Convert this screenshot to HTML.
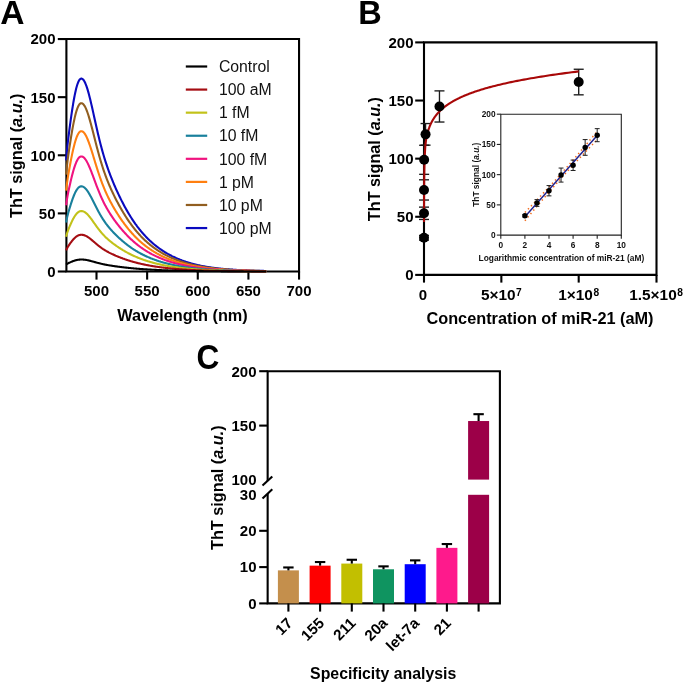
<!DOCTYPE html>
<html><head><meta charset="utf-8"><title>Figure</title>
<style>
html,body{margin:0;padding:0;background:#fff;}
body{width:685px;height:684px;overflow:hidden;}
svg{display:block;font-family:"Liberation Sans", sans-serif;will-change:transform;}
</style></head>
<body>
<svg width="685" height="684" viewBox="0 0 685 684">
<rect width="685" height="684" fill="#fff"/>
<text x="0.30" y="24.20" font-size="33.6" text-anchor="start" font-weight="bold" fill="#000" >A</text>
<path d="M66.40,39.05 H299.05 V271.50 H66.40 Z" fill="none" stroke="#000" stroke-width="2.1"/>
<line x1="57.80" y1="271.50" x2="66.40" y2="271.50" stroke="#000" stroke-width="2.1" />
<text x="55.50" y="276.90" font-size="15" text-anchor="end" font-weight="bold" fill="#000" >0</text>
<line x1="57.80" y1="213.39" x2="66.40" y2="213.39" stroke="#000" stroke-width="2.1" />
<text x="55.50" y="218.79" font-size="15" text-anchor="end" font-weight="bold" fill="#000" >50</text>
<line x1="57.80" y1="155.28" x2="66.40" y2="155.28" stroke="#000" stroke-width="2.1" />
<text x="55.50" y="160.68" font-size="15" text-anchor="end" font-weight="bold" fill="#000" >100</text>
<line x1="57.80" y1="97.16" x2="66.40" y2="97.16" stroke="#000" stroke-width="2.1" />
<text x="55.50" y="102.56" font-size="15" text-anchor="end" font-weight="bold" fill="#000" >150</text>
<line x1="57.80" y1="39.05" x2="66.40" y2="39.05" stroke="#000" stroke-width="2.1" />
<text x="55.50" y="44.45" font-size="15" text-anchor="end" font-weight="bold" fill="#000" >200</text>
<line x1="96.50" y1="271.50" x2="96.50" y2="279.60" stroke="#000" stroke-width="2.1" />
<text x="96.50" y="296.30" font-size="15" text-anchor="middle" font-weight="bold" fill="#000" >500</text>
<line x1="147.14" y1="271.50" x2="147.14" y2="279.60" stroke="#000" stroke-width="2.1" />
<text x="147.14" y="296.30" font-size="15" text-anchor="middle" font-weight="bold" fill="#000" >550</text>
<line x1="197.78" y1="271.50" x2="197.78" y2="279.60" stroke="#000" stroke-width="2.1" />
<text x="197.78" y="296.30" font-size="15" text-anchor="middle" font-weight="bold" fill="#000" >600</text>
<line x1="248.42" y1="271.50" x2="248.42" y2="279.60" stroke="#000" stroke-width="2.1" />
<text x="248.42" y="296.30" font-size="15" text-anchor="middle" font-weight="bold" fill="#000" >650</text>
<line x1="299.06" y1="271.50" x2="299.06" y2="279.60" stroke="#000" stroke-width="2.1" />
<text x="299.06" y="296.30" font-size="15" text-anchor="middle" font-weight="bold" fill="#000" >700</text>
<text x="182.50" y="320.50" font-size="16.3" text-anchor="middle" font-weight="bold" fill="#000" >Wavelength (nm)</text>
<text transform="translate(21.9,155.75) rotate(-90)" font-size="16.25" font-weight="bold" text-anchor="middle">ThT signal (<tspan font-style="italic">a.u.</tspan>)</text>
<polyline points="66.12,160.44 66.62,154.43 67.13,148.89 67.64,143.89 68.14,139.50 68.65,135.50 69.15,131.57 69.66,127.70 70.17,123.92 70.67,120.22 71.18,116.62 71.69,113.14 72.19,109.77 72.70,106.54 73.21,103.45 73.71,100.51 74.22,97.73 74.72,95.12 75.23,92.68 75.74,90.42 76.24,88.35 76.75,86.47 77.26,84.79 77.76,83.30 78.27,82.02 78.78,80.95 79.28,80.08 79.79,79.41 80.30,78.94 80.80,78.66 81.31,78.57 81.81,78.63 82.32,78.85 82.83,79.23 83.33,79.75 83.84,80.43 84.35,81.25 84.85,82.21 85.36,83.31 85.87,84.54 86.37,85.89 86.88,87.36 87.38,88.94 87.89,90.63 88.40,92.41 88.90,94.27 89.41,96.22 89.92,98.24 90.42,100.32 90.93,102.45 91.44,104.63 91.94,106.84 92.45,109.09 92.96,111.36 93.46,113.64 93.97,115.93 94.47,118.23 94.98,120.52 95.49,122.80 95.99,125.06 96.50,127.31 97.01,129.53 97.51,131.73 98.02,133.89 98.53,136.03 99.03,138.12 99.54,140.19 100.04,142.21 100.55,144.19 101.06,146.13 101.56,148.04 102.07,149.90 102.58,151.72 103.08,153.50 103.59,155.24 104.10,156.95 104.60,158.61 105.11,160.24 105.62,161.84 106.12,163.40 106.63,164.93 107.13,166.42 107.64,167.89 108.15,169.33 108.65,170.74 109.16,172.13 109.67,173.49 110.17,174.83 110.68,176.15 111.19,177.44 111.69,178.72 112.20,179.98 112.70,181.22 113.21,182.44 113.72,183.65 114.22,184.84 114.73,186.01 115.24,187.17 115.74,188.32 116.25,189.45 116.76,190.58 117.26,191.68 117.77,192.78 118.28,193.86 118.78,194.93 119.29,195.99 119.79,197.04 120.30,198.07 120.81,199.10 121.31,200.11 121.82,201.11 122.33,202.10 122.83,203.08 123.34,204.05 123.85,205.01 124.35,205.96 124.86,206.89 125.36,207.81 125.87,208.73 126.38,209.63 126.88,210.52 127.39,211.40 127.90,212.27 128.40,213.13 128.91,213.98 129.42,214.81 129.92,215.64 130.43,216.45 130.94,217.26 131.44,218.05 131.95,218.84 132.45,219.61 132.96,220.37 133.47,221.13 133.97,221.87 134.48,222.60 134.99,223.32 135.49,224.04 136.00,224.74 136.51,225.43 137.01,226.12 137.52,226.79 138.02,227.46 138.53,228.11 139.04,228.76 139.54,229.40 140.05,230.02 140.56,230.64 141.06,231.26 141.57,231.86 142.08,232.45 142.58,233.04 143.09,233.62 143.60,234.19 144.10,234.75 144.61,235.30 145.11,235.85 145.62,236.39 146.13,236.92 146.63,237.44 147.14,237.96 147.65,238.46 148.15,238.97 148.66,239.46 149.17,239.95 149.67,240.43 150.18,240.90 150.68,241.37 151.19,241.83 151.70,242.29 152.20,242.74 152.71,243.18 153.22,243.61 153.72,244.04 154.23,244.47 154.74,244.88 155.24,245.30 155.75,245.70 156.26,246.10 156.76,246.50 157.27,246.89 157.77,247.27 158.28,247.65 158.79,248.02 159.29,248.39 159.80,248.75 160.31,249.11 160.81,249.46 161.32,249.81 161.83,250.15 162.33,250.49 162.84,250.83 163.34,251.15 163.85,251.48 164.36,251.80 164.86,252.11 165.37,252.42 165.88,252.73 166.38,253.03 166.89,253.33 167.40,253.62 167.90,253.91 168.41,254.19 168.92,254.47 169.42,254.75 169.93,255.02 170.43,255.29 170.94,255.55 171.45,255.81 171.95,256.07 172.46,256.32 172.97,256.57 173.47,256.82 173.98,257.06 174.49,257.30 174.99,257.53 175.50,257.76 176.00,257.99 176.51,258.21 177.02,258.43 177.52,258.65 178.03,258.87 178.54,259.08 179.04,259.28 179.55,259.49 180.06,259.69 180.56,259.89 181.07,260.08 181.58,260.28 182.08,260.47 182.59,260.65 183.09,260.84 183.60,261.02 184.11,261.19 184.61,261.37 185.12,261.54 185.63,261.71 186.13,261.88 186.64,262.04 187.15,262.20 187.65,262.36 188.16,262.52 188.66,262.67 189.17,262.83 189.68,262.98 190.18,263.12 190.69,263.27 191.20,263.41 191.70,263.55 192.21,263.69 192.72,263.82 193.22,263.96 193.73,264.09 194.24,264.22 194.74,264.34 195.25,264.47 195.75,264.59 196.26,264.71 196.77,264.83 197.27,264.95 197.78,265.06 198.29,265.18 198.79,265.29 199.30,265.40 199.81,265.50 200.31,265.61 200.82,265.71 201.32,265.82 201.83,265.92 202.34,266.02 202.84,266.11 203.35,266.21 203.86,266.30 204.36,266.39 204.87,266.49 205.38,266.57 205.88,266.66 206.39,266.75 206.90,266.83 207.40,266.92 207.91,267.00 208.41,267.08 208.92,267.16 209.43,267.24 209.93,267.31 210.44,267.39 210.95,267.46 211.45,267.53 211.96,267.61 212.47,267.68 212.97,267.75 213.48,267.81 213.98,267.88 214.49,267.95 215.00,268.01 215.50,268.07 216.01,268.13 216.52,268.20 217.02,268.26 217.53,268.31 218.04,268.37 218.54,268.43 219.05,268.49 219.56,268.54 220.06,268.59 220.57,268.65 221.07,268.70 221.58,268.75 222.09,268.80 222.59,268.85 223.10,268.90 223.61,268.95 224.11,268.99 224.62,269.04 225.13,269.08 225.63,269.13 226.14,269.17 226.64,269.21 227.15,269.26 227.66,269.30 228.16,269.34 228.67,269.38 229.18,269.42 229.68,269.46 230.19,269.49 230.70,269.53 231.20,269.57 231.71,269.60 232.22,269.64 232.72,269.67 233.23,269.71 233.73,269.74 234.24,269.77 234.75,269.80 235.25,269.84 235.76,269.87 236.27,269.90 236.77,269.93 237.28,269.96 237.79,269.98 238.29,270.01 238.80,270.04 239.30,270.07 239.81,270.09 240.32,270.12 240.82,270.15 241.33,270.17 241.84,270.20 242.34,270.22 242.85,270.24 243.36,270.27 243.86,270.29 244.37,270.31 244.88,270.34 245.38,270.36 245.89,270.38 246.39,270.40 246.90,270.42 247.41,270.44 247.91,270.46 248.42,270.48 248.93,270.50 249.43,270.52 249.94,270.54 250.45,270.56 250.95,270.57 251.46,270.59 251.96,270.61 252.47,270.62 252.98,270.64 253.48,270.66 253.99,270.67 254.50,270.69 255.00,270.70 255.51,270.72 256.02,270.73 256.52,270.75 257.03,270.76 257.54,270.78 258.04,270.79 258.55,270.80 259.05,270.82 259.56,270.83 260.07,270.84 260.57,270.85 261.08,270.87 261.59,270.88 262.09,270.89 262.60,270.90 263.11,270.91 263.61,270.92 264.12,270.94 264.62,270.95 265.13,270.96 265.64,270.97 266.14,270.98" fill="none" stroke="#0a0abf" stroke-width="2.1" stroke-linejoin="round"/>
<polyline points="66.12,174.62 66.62,169.38 67.13,164.55 67.64,160.19 68.14,156.36 68.65,152.87 69.15,149.44 69.66,146.07 70.17,142.77 70.67,139.54 71.18,136.40 71.69,133.36 72.19,130.43 72.70,127.61 73.21,124.91 73.71,122.35 74.22,119.92 74.72,117.64 75.23,115.51 75.74,113.54 76.24,111.74 76.75,110.10 77.26,108.63 77.76,107.34 78.27,106.22 78.78,105.28 79.28,104.52 79.79,103.94 80.30,103.53 80.80,103.29 81.31,103.21 81.81,103.26 82.32,103.46 82.83,103.78 83.33,104.24 83.84,104.83 84.35,105.55 84.85,106.38 85.36,107.34 85.87,108.41 86.37,109.59 86.88,110.88 87.38,112.26 87.89,113.73 88.40,115.28 88.90,116.91 89.41,118.61 89.92,120.36 90.42,122.18 90.93,124.04 91.44,125.94 91.94,127.87 92.45,129.83 92.96,131.81 93.46,133.80 93.97,135.80 94.47,137.80 94.98,139.80 95.49,141.79 95.99,143.76 96.50,145.72 97.01,147.66 97.51,149.58 98.02,151.47 98.53,153.33 99.03,155.16 99.54,156.96 100.04,158.72 100.55,160.45 101.06,162.14 101.56,163.80 102.07,165.43 102.58,167.02 103.08,168.57 103.59,170.09 104.10,171.58 104.60,173.03 105.11,174.45 105.62,175.84 106.12,177.20 106.63,178.54 107.13,179.84 107.64,181.12 108.15,182.38 108.65,183.61 109.16,184.82 109.67,186.01 110.17,187.18 110.68,188.33 111.19,189.46 111.69,190.57 112.20,191.67 112.70,192.75 113.21,193.81 113.72,194.87 114.22,195.91 114.73,196.93 115.24,197.94 115.74,198.94 116.25,199.93 116.76,200.91 117.26,201.88 117.77,202.83 118.28,203.78 118.78,204.71 119.29,205.63 119.79,206.55 120.30,207.45 120.81,208.35 121.31,209.23 121.82,210.10 122.33,210.97 122.83,211.82 123.34,212.67 123.85,213.50 124.35,214.33 124.86,215.14 125.36,215.95 125.87,216.74 126.38,217.53 126.88,218.31 127.39,219.08 127.90,219.83 128.40,220.58 128.91,221.32 129.42,222.05 129.92,222.77 130.43,223.48 130.94,224.19 131.44,224.88 131.95,225.56 132.45,226.24 132.96,226.90 133.47,227.56 133.97,228.21 134.48,228.85 134.99,229.48 135.49,230.10 136.00,230.71 136.51,231.32 137.01,231.91 137.52,232.50 138.02,233.08 138.53,233.65 139.04,234.22 139.54,234.77 140.05,235.32 140.56,235.86 141.06,236.40 141.57,236.92 142.08,237.44 142.58,237.95 143.09,238.45 143.60,238.95 144.10,239.44 144.61,239.92 145.11,240.40 145.62,240.87 146.13,241.33 146.63,241.79 147.14,242.24 147.65,242.68 148.15,243.12 148.66,243.55 149.17,243.98 149.67,244.40 150.18,244.81 150.68,245.22 151.19,245.62 151.70,246.02 152.20,246.41 152.71,246.79 153.22,247.17 153.72,247.55 154.23,247.92 154.74,248.28 155.24,248.64 155.75,249.00 156.26,249.35 156.76,249.69 157.27,250.03 157.77,250.37 158.28,250.70 158.79,251.02 159.29,251.34 159.80,251.66 160.31,251.97 160.81,252.28 161.32,252.58 161.83,252.88 162.33,253.18 162.84,253.47 163.34,253.75 163.85,254.03 164.36,254.31 164.86,254.59 165.37,254.86 165.88,255.12 166.38,255.39 166.89,255.65 167.40,255.90 167.90,256.15 168.41,256.40 168.92,256.65 169.42,256.89 169.93,257.12 170.43,257.36 170.94,257.59 171.45,257.82 171.95,258.04 172.46,258.26 172.97,258.48 173.47,258.69 173.98,258.90 174.49,259.11 174.99,259.31 175.50,259.52 176.00,259.71 176.51,259.91 177.02,260.10 177.52,260.29 178.03,260.48 178.54,260.66 179.04,260.84 179.55,261.02 180.06,261.20 180.56,261.37 181.07,261.54 181.58,261.71 182.08,261.87 182.59,262.04 183.09,262.20 183.60,262.36 184.11,262.51 184.61,262.66 185.12,262.81 185.63,262.96 186.13,263.11 186.64,263.25 187.15,263.39 187.65,263.53 188.16,263.67 188.66,263.80 189.17,263.93 189.68,264.06 190.18,264.19 190.69,264.32 191.20,264.44 191.70,264.57 192.21,264.69 192.72,264.80 193.22,264.92 193.73,265.03 194.24,265.15 194.74,265.26 195.25,265.37 195.75,265.47 196.26,265.58 196.77,265.68 197.27,265.78 197.78,265.88 198.29,265.98 198.79,266.08 199.30,266.18 199.81,266.27 200.31,266.36 200.82,266.45 201.32,266.54 201.83,266.63 202.34,266.72 202.84,266.80 203.35,266.88 203.86,266.97 204.36,267.05 204.87,267.13 205.38,267.20 205.88,267.28 206.39,267.36 206.90,267.43 207.40,267.50 207.91,267.57 208.41,267.64 208.92,267.71 209.43,267.78 209.93,267.85 210.44,267.91 210.95,267.98 211.45,268.04 211.96,268.10 212.47,268.16 212.97,268.23 213.48,268.28 213.98,268.34 214.49,268.40 215.00,268.46 215.50,268.51 216.01,268.56 216.52,268.62 217.02,268.67 217.53,268.72 218.04,268.77 218.54,268.82 219.05,268.87 219.56,268.92 220.06,268.97 220.57,269.01 221.07,269.06 221.58,269.10 222.09,269.15 222.59,269.19 223.10,269.23 223.61,269.27 224.11,269.31 224.62,269.35 225.13,269.39 225.63,269.43 226.14,269.47 226.64,269.51 227.15,269.54 227.66,269.58 228.16,269.61 228.67,269.65 229.18,269.68 229.68,269.72 230.19,269.75 230.70,269.78 231.20,269.81 231.71,269.85 232.22,269.88 232.72,269.91 233.23,269.94 233.73,269.96 234.24,269.99 234.75,270.02 235.25,270.05 235.76,270.08 236.27,270.10 236.77,270.13 237.28,270.15 237.79,270.18 238.29,270.20 238.80,270.23 239.30,270.25 239.81,270.27 240.32,270.30 240.82,270.32 241.33,270.34 241.84,270.36 242.34,270.38 242.85,270.41 243.36,270.43 243.86,270.45 244.37,270.47 244.88,270.48 245.38,270.50 245.89,270.52 246.39,270.54 246.90,270.56 247.41,270.58 247.91,270.59 248.42,270.61 248.93,270.63 249.43,270.64 249.94,270.66 250.45,270.68 250.95,270.69 251.46,270.71 251.96,270.72 252.47,270.74 252.98,270.75 253.48,270.76 253.99,270.78 254.50,270.79 255.00,270.81 255.51,270.82 256.02,270.83 256.52,270.84 257.03,270.86 257.54,270.87 258.04,270.88 258.55,270.89 259.05,270.90 259.56,270.92 260.07,270.93 260.57,270.94 261.08,270.95 261.59,270.96 262.09,270.97 262.60,270.98 263.11,270.99 263.61,271.00 264.12,271.01 264.62,271.02 265.13,271.03 265.64,271.04 266.14,271.04" fill="none" stroke="#915e20" stroke-width="2.1" stroke-linejoin="round"/>
<polyline points="66.12,190.74 66.62,186.38 67.13,182.35 67.64,178.71 68.14,175.52 68.65,172.62 69.15,169.76 69.66,166.95 70.17,164.19 70.67,161.50 71.18,158.89 71.69,156.35 72.19,153.91 72.70,151.56 73.21,149.31 73.71,147.17 74.22,145.15 74.72,143.25 75.23,141.48 75.74,139.83 76.24,138.33 76.75,136.96 77.26,135.74 77.76,134.66 78.27,133.73 78.78,132.95 79.28,132.31 79.79,131.83 80.30,131.49 80.80,131.28 81.31,131.22 81.81,131.26 82.32,131.42 82.83,131.70 83.33,132.08 83.84,132.57 84.35,133.17 84.85,133.87 85.36,134.66 85.87,135.56 86.37,136.54 86.88,137.61 87.38,138.76 87.89,139.99 88.40,141.28 88.90,142.64 89.41,144.05 89.92,145.52 90.42,147.03 90.93,148.58 91.44,150.17 91.94,151.78 92.45,153.41 92.96,155.06 93.46,156.72 93.97,158.39 94.47,160.05 94.98,161.72 95.49,163.38 95.99,165.02 96.50,166.66 97.01,168.27 97.51,169.87 98.02,171.45 98.53,173.00 99.03,174.52 99.54,176.02 100.04,177.49 100.55,178.93 101.06,180.34 101.56,181.73 102.07,183.08 102.58,184.41 103.08,185.70 103.59,186.97 104.10,188.21 104.60,189.42 105.11,190.60 105.62,191.76 106.12,192.90 106.63,194.01 107.13,195.10 107.64,196.17 108.15,197.21 108.65,198.24 109.16,199.25 109.67,200.24 110.17,201.21 110.68,202.17 111.19,203.11 111.69,204.04 112.20,204.95 112.70,205.86 113.21,206.74 113.72,207.62 114.22,208.49 114.73,209.34 115.24,210.19 115.74,211.02 116.25,211.84 116.76,212.66 117.26,213.46 117.77,214.26 118.28,215.05 118.78,215.83 119.29,216.60 119.79,217.36 120.30,218.11 120.81,218.86 121.31,219.59 121.82,220.32 122.33,221.04 122.83,221.75 123.34,222.46 123.85,223.15 124.35,223.84 124.86,224.52 125.36,225.19 125.87,225.86 126.38,226.51 126.88,227.16 127.39,227.80 127.90,228.43 128.40,229.06 128.91,229.67 129.42,230.28 129.92,230.88 130.43,231.48 130.94,232.06 131.44,232.64 131.95,233.21 132.45,233.77 132.96,234.33 133.47,234.87 133.97,235.41 134.48,235.95 134.99,236.47 135.49,236.99 136.00,237.50 136.51,238.00 137.01,238.50 137.52,238.99 138.02,239.47 138.53,239.95 139.04,240.42 139.54,240.89 140.05,241.34 140.56,241.79 141.06,242.24 141.57,242.68 142.08,243.11 142.58,243.53 143.09,243.95 143.60,244.37 144.10,244.78 144.61,245.18 145.11,245.58 145.62,245.97 146.13,246.35 146.63,246.73 147.14,247.11 147.65,247.48 148.15,247.84 148.66,248.20 149.17,248.56 149.67,248.91 150.18,249.25 150.68,249.59 151.19,249.93 151.70,250.26 152.20,250.58 152.71,250.91 153.22,251.22 153.72,251.54 154.23,251.84 154.74,252.15 155.24,252.45 155.75,252.74 156.26,253.03 156.76,253.32 157.27,253.60 157.77,253.88 158.28,254.16 158.79,254.43 159.29,254.70 159.80,254.96 160.31,255.22 160.81,255.48 161.32,255.73 161.83,255.98 162.33,256.23 162.84,256.47 163.34,256.71 163.85,256.94 164.36,257.17 164.86,257.40 165.37,257.63 165.88,257.85 166.38,258.07 166.89,258.29 167.40,258.50 167.90,258.71 168.41,258.91 168.92,259.12 169.42,259.32 169.93,259.52 170.43,259.71 170.94,259.90 171.45,260.09 171.95,260.28 172.46,260.46 172.97,260.64 173.47,260.82 173.98,261.00 174.49,261.17 174.99,261.34 175.50,261.51 176.00,261.68 176.51,261.84 177.02,262.00 177.52,262.16 178.03,262.31 178.54,262.47 179.04,262.62 179.55,262.77 180.06,262.91 180.56,263.06 181.07,263.20 181.58,263.34 182.08,263.48 182.59,263.61 183.09,263.75 183.60,263.88 184.11,264.01 184.61,264.13 185.12,264.26 185.63,264.38 186.13,264.50 186.64,264.62 187.15,264.74 187.65,264.86 188.16,264.97 188.66,265.08 189.17,265.19 189.68,265.30 190.18,265.41 190.69,265.51 191.20,265.62 191.70,265.72 192.21,265.82 192.72,265.92 193.22,266.02 193.73,266.11 194.24,266.20 194.74,266.30 195.25,266.39 195.75,266.48 196.26,266.56 196.77,266.65 197.27,266.74 197.78,266.82 198.29,266.90 198.79,266.98 199.30,267.06 199.81,267.14 200.31,267.22 200.82,267.29 201.32,267.37 201.83,267.44 202.34,267.51 202.84,267.58 203.35,267.65 203.86,267.72 204.36,267.79 204.87,267.85 205.38,267.92 205.88,267.98 206.39,268.05 206.90,268.11 207.40,268.17 207.91,268.23 208.41,268.29 208.92,268.34 209.43,268.40 209.93,268.46 210.44,268.51 210.95,268.56 211.45,268.62 211.96,268.67 212.47,268.72 212.97,268.77 213.48,268.82 213.98,268.87 214.49,268.92 215.00,268.96 215.50,269.01 216.01,269.05 216.52,269.10 217.02,269.14 217.53,269.18 218.04,269.23 218.54,269.27 219.05,269.31 219.56,269.35 220.06,269.39 220.57,269.43 221.07,269.46 221.58,269.50 222.09,269.54 222.59,269.57 223.10,269.61 223.61,269.64 224.11,269.68 224.62,269.71 225.13,269.74 225.63,269.78 226.14,269.81 226.64,269.84 227.15,269.87 227.66,269.90 228.16,269.93 228.67,269.96 229.18,269.99 229.68,270.01 230.19,270.04 230.70,270.07 231.20,270.09 231.71,270.12 232.22,270.15 232.72,270.17 233.23,270.20 233.73,270.22 234.24,270.24 234.75,270.27 235.25,270.29 235.76,270.31 236.27,270.33 236.77,270.36 237.28,270.38 237.79,270.40 238.29,270.42 238.80,270.44 239.30,270.46 239.81,270.48 240.32,270.50 240.82,270.52 241.33,270.53 241.84,270.55 242.34,270.57 242.85,270.59 243.36,270.60 243.86,270.62 244.37,270.64 244.88,270.65 245.38,270.67 245.89,270.69 246.39,270.70 246.90,270.72 247.41,270.73 247.91,270.74 248.42,270.76 248.93,270.77 249.43,270.79 249.94,270.80 250.45,270.81 250.95,270.83 251.46,270.84 251.96,270.85 252.47,270.86 252.98,270.88 253.48,270.89 253.99,270.90 254.50,270.91 255.00,270.92 255.51,270.93 256.02,270.94 256.52,270.95 257.03,270.96 257.54,270.97 258.04,270.98 258.55,270.99 259.05,271.00 259.56,271.01 260.07,271.02 260.57,271.03 261.08,271.04 261.59,271.05 262.09,271.06 262.60,271.07 263.11,271.07 263.61,271.08 264.12,271.09 264.62,271.10 265.13,271.11 265.64,271.11 266.14,271.12" fill="none" stroke="#ff7f10" stroke-width="2.1" stroke-linejoin="round"/>
<polyline points="66.12,205.26 66.62,201.68 67.13,198.38 67.64,195.40 68.14,192.78 68.65,190.39 69.15,188.05 69.66,185.74 70.17,183.48 70.67,181.28 71.18,179.13 71.69,177.06 72.19,175.05 72.70,173.12 73.21,171.28 73.71,169.52 74.22,167.87 74.72,166.31 75.23,164.85 75.74,163.51 76.24,162.27 76.75,161.15 77.26,160.15 77.76,159.26 78.27,158.50 78.78,157.86 79.28,157.34 79.79,156.94 80.30,156.66 80.80,156.49 81.31,156.44 81.81,156.48 82.32,156.61 82.83,156.83 83.33,157.14 83.84,157.55 84.35,158.04 84.85,158.61 85.36,159.27 85.87,160.00 86.37,160.81 86.88,161.68 87.38,162.63 87.89,163.63 88.40,164.69 88.90,165.81 89.41,166.97 89.92,168.17 90.42,169.41 90.93,170.68 91.44,171.98 91.94,173.30 92.45,174.64 92.96,175.99 93.46,177.36 93.97,178.72 94.47,180.09 94.98,181.46 95.49,182.82 95.99,184.17 96.50,185.51 97.01,186.83 97.51,188.14 98.02,189.43 98.53,190.71 99.03,191.96 99.54,193.19 100.04,194.39 100.55,195.57 101.06,196.73 101.56,197.87 102.07,198.98 102.58,200.06 103.08,201.13 103.59,202.17 104.10,203.18 104.60,204.18 105.11,205.15 105.62,206.10 106.12,207.03 106.63,207.94 107.13,208.83 107.64,209.71 108.15,210.57 108.65,211.41 109.16,212.24 109.67,213.05 110.17,213.85 110.68,214.63 111.19,215.41 111.69,216.17 112.20,216.92 112.70,217.66 113.21,218.39 113.72,219.11 114.22,219.82 114.73,220.52 115.24,221.21 115.74,221.89 116.25,222.57 116.76,223.24 117.26,223.90 117.77,224.55 118.28,225.20 118.78,225.84 119.29,226.47 119.79,227.09 120.30,227.71 120.81,228.32 121.31,228.93 121.82,229.52 122.33,230.11 122.83,230.70 123.34,231.28 123.85,231.85 124.35,232.41 124.86,232.97 125.36,233.52 125.87,234.06 126.38,234.60 126.88,235.13 127.39,235.66 127.90,236.18 128.40,236.69 128.91,237.19 129.42,237.69 129.92,238.18 130.43,238.67 130.94,239.15 131.44,239.62 131.95,240.09 132.45,240.55 132.96,241.01 133.47,241.46 133.97,241.90 134.48,242.34 134.99,242.77 135.49,243.19 136.00,243.61 136.51,244.03 137.01,244.43 137.52,244.84 138.02,245.23 138.53,245.62 139.04,246.01 139.54,246.39 140.05,246.76 140.56,247.13 141.06,247.50 141.57,247.86 142.08,248.21 142.58,248.56 143.09,248.91 143.60,249.25 144.10,249.58 144.61,249.91 145.11,250.24 145.62,250.56 146.13,250.87 146.63,251.19 147.14,251.49 147.65,251.80 148.15,252.10 148.66,252.39 149.17,252.68 149.67,252.97 150.18,253.25 150.68,253.53 151.19,253.81 151.70,254.08 152.20,254.35 152.71,254.61 153.22,254.87 153.72,255.12 154.23,255.38 154.74,255.63 155.24,255.87 155.75,256.11 156.26,256.35 156.76,256.59 157.27,256.82 157.77,257.05 158.28,257.28 158.79,257.50 159.29,257.72 159.80,257.93 160.31,258.15 160.81,258.36 161.32,258.57 161.83,258.77 162.33,258.97 162.84,259.17 163.34,259.37 163.85,259.56 164.36,259.75 164.86,259.94 165.37,260.12 165.88,260.30 166.38,260.48 166.89,260.66 167.40,260.84 167.90,261.01 168.41,261.18 168.92,261.34 169.42,261.51 169.93,261.67 170.43,261.83 170.94,261.99 171.45,262.14 171.95,262.30 172.46,262.45 172.97,262.60 173.47,262.74 173.98,262.89 174.49,263.03 174.99,263.17 175.50,263.31 176.00,263.44 176.51,263.58 177.02,263.71 177.52,263.84 178.03,263.96 178.54,264.09 179.04,264.21 179.55,264.34 180.06,264.46 180.56,264.58 181.07,264.69 181.58,264.81 182.08,264.92 182.59,265.03 183.09,265.14 183.60,265.25 184.11,265.35 184.61,265.46 185.12,265.56 185.63,265.66 186.13,265.76 186.64,265.86 187.15,265.96 187.65,266.05 188.16,266.14 188.66,266.24 189.17,266.33 189.68,266.42 190.18,266.50 190.69,266.59 191.20,266.68 191.70,266.76 192.21,266.84 192.72,266.92 193.22,267.00 193.73,267.08 194.24,267.16 194.74,267.23 195.25,267.31 195.75,267.38 196.26,267.45 196.77,267.52 197.27,267.59 197.78,267.66 198.29,267.73 198.79,267.79 199.30,267.86 199.81,267.92 200.31,267.99 200.82,268.05 201.32,268.11 201.83,268.17 202.34,268.23 202.84,268.29 203.35,268.34 203.86,268.40 204.36,268.46 204.87,268.51 205.38,268.56 205.88,268.61 206.39,268.67 206.90,268.72 207.40,268.77 207.91,268.82 208.41,268.86 208.92,268.91 209.43,268.96 209.93,269.00 210.44,269.05 210.95,269.09 211.45,269.14 211.96,269.18 212.47,269.22 212.97,269.26 213.48,269.30 213.98,269.34 214.49,269.38 215.00,269.42 215.50,269.46 216.01,269.49 216.52,269.53 217.02,269.57 217.53,269.60 218.04,269.63 218.54,269.67 219.05,269.70 219.56,269.73 220.06,269.77 220.57,269.80 221.07,269.83 221.58,269.86 222.09,269.89 222.59,269.92 223.10,269.95 223.61,269.98 224.11,270.00 224.62,270.03 225.13,270.06 225.63,270.09 226.14,270.11 226.64,270.14 227.15,270.16 227.66,270.19 228.16,270.21 228.67,270.23 229.18,270.26 229.68,270.28 230.19,270.30 230.70,270.33 231.20,270.35 231.71,270.37 232.22,270.39 232.72,270.41 233.23,270.43 233.73,270.45 234.24,270.47 234.75,270.49 235.25,270.51 235.76,270.53 236.27,270.54 236.77,270.56 237.28,270.58 237.79,270.60 238.29,270.61 238.80,270.63 239.30,270.65 239.81,270.66 240.32,270.68 240.82,270.69 241.33,270.71 241.84,270.72 242.34,270.74 242.85,270.75 243.36,270.77 243.86,270.78 244.37,270.79 244.88,270.81 245.38,270.82 245.89,270.83 246.39,270.84 246.90,270.86 247.41,270.87 247.91,270.88 248.42,270.89 248.93,270.90 249.43,270.91 249.94,270.93 250.45,270.94 250.95,270.95 251.46,270.96 251.96,270.97 252.47,270.98 252.98,270.99 253.48,271.00 253.99,271.01 254.50,271.02 255.00,271.03 255.51,271.03 256.02,271.04 256.52,271.05 257.03,271.06 257.54,271.07 258.04,271.08 258.55,271.08 259.05,271.09 259.56,271.10 260.07,271.11 260.57,271.12 261.08,271.12 261.59,271.13 262.09,271.14 262.60,271.14 263.11,271.15 263.61,271.16 264.12,271.16 264.62,271.17 265.13,271.18 265.64,271.18 266.14,271.19" fill="none" stroke="#f0137f" stroke-width="2.1" stroke-linejoin="round"/>
<polyline points="66.12,222.46 66.62,219.81 67.13,217.36 67.64,215.15 68.14,213.21 68.65,211.45 69.15,209.71 69.66,208.00 70.17,206.33 70.67,204.70 71.18,203.11 71.69,201.57 72.19,200.09 72.70,198.66 73.21,197.30 73.71,196.00 74.22,194.77 74.72,193.61 75.23,192.54 75.74,191.54 76.24,190.63 76.75,189.80 77.26,189.05 77.76,188.40 78.27,187.83 78.78,187.36 79.28,186.97 79.79,186.68 80.30,186.47 80.80,186.35 81.31,186.31 81.81,186.34 82.32,186.43 82.83,186.60 83.33,186.83 83.84,187.13 84.35,187.49 84.85,187.92 85.36,188.40 85.87,188.94 86.37,189.54 86.88,190.19 87.38,190.89 87.89,191.63 88.40,192.42 88.90,193.24 89.41,194.10 89.92,194.99 90.42,195.91 90.93,196.85 91.44,197.81 91.94,198.79 92.45,199.79 92.96,200.79 93.46,201.80 93.97,202.81 94.47,203.82 94.98,204.83 95.49,205.84 95.99,206.84 96.50,207.83 97.01,208.81 97.51,209.78 98.02,210.74 98.53,211.68 99.03,212.61 99.54,213.52 100.04,214.41 100.55,215.28 101.06,216.14 101.56,216.98 102.07,217.80 102.58,218.61 103.08,219.40 103.59,220.16 104.10,220.92 104.60,221.65 105.11,222.37 105.62,223.08 106.12,223.77 106.63,224.44 107.13,225.10 107.64,225.75 108.15,226.39 108.65,227.01 109.16,227.62 109.67,228.22 110.17,228.81 110.68,229.40 111.19,229.97 111.69,230.53 112.20,231.09 112.70,231.63 113.21,232.17 113.72,232.71 114.22,233.23 114.73,233.75 115.24,234.26 115.74,234.77 116.25,235.27 116.76,235.77 117.26,236.26 117.77,236.74 118.28,237.22 118.78,237.69 119.29,238.16 119.79,238.62 120.30,239.08 120.81,239.53 121.31,239.98 121.82,240.42 122.33,240.86 122.83,241.29 123.34,241.72 123.85,242.14 124.35,242.56 124.86,242.97 125.36,243.38 125.87,243.78 126.38,244.18 126.88,244.57 127.39,244.96 127.90,245.35 128.40,245.72 128.91,246.10 129.42,246.47 129.92,246.83 130.43,247.19 130.94,247.55 131.44,247.90 131.95,248.25 132.45,248.59 132.96,248.92 133.47,249.26 133.97,249.58 134.48,249.91 134.99,250.23 135.49,250.54 136.00,250.85 136.51,251.16 137.01,251.46 137.52,251.76 138.02,252.05 138.53,252.34 139.04,252.63 139.54,252.91 140.05,253.19 140.56,253.46 141.06,253.73 141.57,254.00 142.08,254.26 142.58,254.52 143.09,254.77 143.60,255.02 144.10,255.27 144.61,255.52 145.11,255.76 145.62,255.99 146.13,256.23 146.63,256.46 147.14,256.69 147.65,256.91 148.15,257.13 148.66,257.35 149.17,257.57 149.67,257.78 150.18,257.99 150.68,258.20 151.19,258.40 151.70,258.60 152.20,258.80 152.71,258.99 153.22,259.19 153.72,259.38 154.23,259.56 154.74,259.75 155.24,259.93 155.75,260.11 156.26,260.29 156.76,260.46 157.27,260.63 157.77,260.80 158.28,260.97 158.79,261.13 159.29,261.30 159.80,261.46 160.31,261.61 160.81,261.77 161.32,261.92 161.83,262.07 162.33,262.22 162.84,262.37 163.34,262.52 163.85,262.66 164.36,262.80 164.86,262.94 165.37,263.08 165.88,263.21 166.38,263.34 166.89,263.47 167.40,263.60 167.90,263.73 168.41,263.86 168.92,263.98 169.42,264.10 169.93,264.22 170.43,264.34 170.94,264.46 171.45,264.57 171.95,264.69 172.46,264.80 172.97,264.91 173.47,265.02 173.98,265.12 174.49,265.23 174.99,265.33 175.50,265.43 176.00,265.53 176.51,265.63 177.02,265.73 177.52,265.83 178.03,265.92 178.54,266.01 179.04,266.11 179.55,266.20 180.06,266.29 180.56,266.37 181.07,266.46 181.58,266.54 182.08,266.63 182.59,266.71 183.09,266.79 183.60,266.87 184.11,266.95 184.61,267.03 185.12,267.10 185.63,267.18 186.13,267.25 186.64,267.32 187.15,267.40 187.65,267.47 188.16,267.53 188.66,267.60 189.17,267.67 189.68,267.74 190.18,267.80 190.69,267.86 191.20,267.93 191.70,267.99 192.21,268.05 192.72,268.11 193.22,268.17 193.73,268.23 194.24,268.28 194.74,268.34 195.25,268.40 195.75,268.45 196.26,268.50 196.77,268.56 197.27,268.61 197.78,268.66 198.29,268.71 198.79,268.76 199.30,268.80 199.81,268.85 200.31,268.90 200.82,268.94 201.32,268.99 201.83,269.03 202.34,269.08 202.84,269.12 203.35,269.16 203.86,269.20 204.36,269.25 204.87,269.29 205.38,269.33 205.88,269.36 206.39,269.40 206.90,269.44 207.40,269.48 207.91,269.51 208.41,269.55 208.92,269.58 209.43,269.62 209.93,269.65 210.44,269.68 210.95,269.72 211.45,269.75 211.96,269.78 212.47,269.81 212.97,269.84 213.48,269.87 213.98,269.90 214.49,269.93 215.00,269.96 215.50,269.99 216.01,270.01 216.52,270.04 217.02,270.07 217.53,270.09 218.04,270.12 218.54,270.14 219.05,270.17 219.56,270.19 220.06,270.22 220.57,270.24 221.07,270.26 221.58,270.29 222.09,270.31 222.59,270.33 223.10,270.35 223.61,270.37 224.11,270.39 224.62,270.41 225.13,270.43 225.63,270.45 226.14,270.47 226.64,270.49 227.15,270.51 227.66,270.53 228.16,270.55 228.67,270.56 229.18,270.58 229.68,270.60 230.19,270.61 230.70,270.63 231.20,270.65 231.71,270.66 232.22,270.68 232.72,270.69 233.23,270.71 233.73,270.72 234.24,270.74 234.75,270.75 235.25,270.77 235.76,270.78 236.27,270.79 236.77,270.81 237.28,270.82 237.79,270.83 238.29,270.84 238.80,270.86 239.30,270.87 239.81,270.88 240.32,270.89 240.82,270.90 241.33,270.91 241.84,270.92 242.34,270.94 242.85,270.95 243.36,270.96 243.86,270.97 244.37,270.98 244.88,270.99 245.38,271.00 245.89,271.01 246.39,271.01 246.90,271.02 247.41,271.03 247.91,271.04 248.42,271.05 248.93,271.06 249.43,271.07 249.94,271.07 250.45,271.08 250.95,271.09 251.46,271.10 251.96,271.11 252.47,271.11 252.98,271.12 253.48,271.13 253.99,271.13 254.50,271.14 255.00,271.15 255.51,271.16 256.02,271.16 256.52,271.17 257.03,271.17 257.54,271.18 258.04,271.19 258.55,271.19 259.05,271.20 259.56,271.20 260.07,271.21 260.57,271.22 261.08,271.22 261.59,271.23 262.09,271.23 262.60,271.24 263.11,271.24 263.61,271.25 264.12,271.25 264.62,271.26 265.13,271.26 265.64,271.26 266.14,271.27" fill="none" stroke="#19809c" stroke-width="2.1" stroke-linejoin="round"/>
<polyline points="66.12,236.71 66.62,234.83 67.13,233.09 67.64,231.53 68.14,230.15 68.65,228.90 69.15,227.67 69.66,226.46 70.17,225.27 70.67,224.11 71.18,222.98 71.69,221.89 72.19,220.84 72.70,219.83 73.21,218.86 73.71,217.94 74.22,217.07 74.72,216.25 75.23,215.48 75.74,214.78 76.24,214.13 76.75,213.54 77.26,213.01 77.76,212.55 78.27,212.15 78.78,211.81 79.28,211.54 79.79,211.33 80.30,211.18 80.80,211.09 81.31,211.06 81.81,211.08 82.32,211.15 82.83,211.27 83.33,211.43 83.84,211.65 84.35,211.90 84.85,212.20 85.36,212.55 85.87,212.93 86.37,213.36 86.88,213.82 87.38,214.31 87.89,214.84 88.40,215.40 88.90,215.98 89.41,216.59 89.92,217.22 90.42,217.88 90.93,218.54 91.44,219.23 91.94,219.92 92.45,220.62 92.96,221.34 93.46,222.05 93.97,222.77 94.47,223.49 94.98,224.20 95.49,224.92 95.99,225.63 96.50,226.33 97.01,227.03 97.51,227.72 98.02,228.39 98.53,229.06 99.03,229.72 99.54,230.37 100.04,231.00 100.55,231.62 101.06,232.23 101.56,232.82 102.07,233.41 102.58,233.98 103.08,234.54 103.59,235.08 104.10,235.62 104.60,236.14 105.11,236.65 105.62,237.15 106.12,237.64 106.63,238.12 107.13,238.58 107.64,239.04 108.15,239.50 108.65,239.94 109.16,240.37 109.67,240.80 110.17,241.22 110.68,241.63 111.19,242.04 111.69,242.44 112.20,242.83 112.70,243.22 113.21,243.60 113.72,243.98 114.22,244.35 114.73,244.72 115.24,245.08 115.74,245.44 116.25,245.80 116.76,246.15 117.26,246.50 117.77,246.84 118.28,247.18 118.78,247.51 119.29,247.85 119.79,248.17 120.30,248.50 120.81,248.82 121.31,249.14 121.82,249.45 122.33,249.76 122.83,250.07 123.34,250.37 123.85,250.67 124.35,250.97 124.86,251.26 125.36,251.55 125.87,251.84 126.38,252.12 126.88,252.40 127.39,252.67 127.90,252.95 128.40,253.21 128.91,253.48 129.42,253.74 129.92,254.00 130.43,254.26 130.94,254.51 131.44,254.76 131.95,255.00 132.45,255.25 132.96,255.48 133.47,255.72 133.97,255.95 134.48,256.18 134.99,256.41 135.49,256.63 136.00,256.85 136.51,257.07 137.01,257.28 137.52,257.49 138.02,257.70 138.53,257.91 139.04,258.11 139.54,258.31 140.05,258.51 140.56,258.70 141.06,258.89 141.57,259.08 142.08,259.27 142.58,259.45 143.09,259.63 143.60,259.81 144.10,259.99 144.61,260.16 145.11,260.33 145.62,260.50 146.13,260.67 146.63,260.83 147.14,260.99 147.65,261.15 148.15,261.31 148.66,261.46 149.17,261.62 149.67,261.77 150.18,261.92 150.68,262.06 151.19,262.21 151.70,262.35 152.20,262.49 152.71,262.63 153.22,262.76 153.72,262.90 154.23,263.03 154.74,263.16 155.24,263.29 155.75,263.42 156.26,263.54 156.76,263.67 157.27,263.79 157.77,263.91 158.28,264.03 158.79,264.15 159.29,264.26 159.80,264.37 160.31,264.49 160.81,264.60 161.32,264.71 161.83,264.81 162.33,264.92 162.84,265.02 163.34,265.13 163.85,265.23 164.36,265.33 164.86,265.43 165.37,265.52 165.88,265.62 166.38,265.71 166.89,265.81 167.40,265.90 167.90,265.99 168.41,266.08 168.92,266.17 169.42,266.25 169.93,266.34 170.43,266.42 170.94,266.50 171.45,266.59 171.95,266.67 172.46,266.75 172.97,266.82 173.47,266.90 173.98,266.98 174.49,267.05 174.99,267.12 175.50,267.20 176.00,267.27 176.51,267.34 177.02,267.41 177.52,267.48 178.03,267.54 178.54,267.61 179.04,267.67 179.55,267.74 180.06,267.80 180.56,267.86 181.07,267.92 181.58,267.98 182.08,268.04 182.59,268.10 183.09,268.16 183.60,268.22 184.11,268.27 184.61,268.33 185.12,268.38 185.63,268.43 186.13,268.49 186.64,268.54 187.15,268.59 187.65,268.64 188.16,268.69 188.66,268.74 189.17,268.78 189.68,268.83 190.18,268.88 190.69,268.92 191.20,268.97 191.70,269.01 192.21,269.05 192.72,269.10 193.22,269.14 193.73,269.18 194.24,269.22 194.74,269.26 195.25,269.30 195.75,269.34 196.26,269.37 196.77,269.41 197.27,269.45 197.78,269.48 198.29,269.52 198.79,269.55 199.30,269.59 199.81,269.62 200.31,269.65 200.82,269.69 201.32,269.72 201.83,269.75 202.34,269.78 202.84,269.81 203.35,269.84 203.86,269.87 204.36,269.90 204.87,269.93 205.38,269.96 205.88,269.98 206.39,270.01 206.90,270.04 207.40,270.06 207.91,270.09 208.41,270.12 208.92,270.14 209.43,270.16 209.93,270.19 210.44,270.21 210.95,270.24 211.45,270.26 211.96,270.28 212.47,270.30 212.97,270.32 213.48,270.35 213.98,270.37 214.49,270.39 215.00,270.41 215.50,270.43 216.01,270.45 216.52,270.47 217.02,270.48 217.53,270.50 218.04,270.52 218.54,270.54 219.05,270.56 219.56,270.57 220.06,270.59 220.57,270.61 221.07,270.62 221.58,270.64 222.09,270.65 222.59,270.67 223.10,270.69 223.61,270.70 224.11,270.71 224.62,270.73 225.13,270.74 225.63,270.76 226.14,270.77 226.64,270.78 227.15,270.80 227.66,270.81 228.16,270.82 228.67,270.84 229.18,270.85 229.68,270.86 230.19,270.87 230.70,270.88 231.20,270.89 231.71,270.91 232.22,270.92 232.72,270.93 233.23,270.94 233.73,270.95 234.24,270.96 234.75,270.97 235.25,270.98 235.76,270.99 236.27,271.00 236.77,271.01 237.28,271.02 237.79,271.03 238.29,271.03 238.80,271.04 239.30,271.05 239.81,271.06 240.32,271.07 240.82,271.08 241.33,271.08 241.84,271.09 242.34,271.10 242.85,271.11 243.36,271.11 243.86,271.12 244.37,271.13 244.88,271.14 245.38,271.14 245.89,271.15 246.39,271.16 246.90,271.16 247.41,271.17 247.91,271.17 248.42,271.18 248.93,271.19 249.43,271.19 249.94,271.20 250.45,271.20 250.95,271.21 251.46,271.22 251.96,271.22 252.47,271.23 252.98,271.23 253.48,271.24 253.99,271.24 254.50,271.25 255.00,271.25 255.51,271.26 256.02,271.26 256.52,271.26 257.03,271.27 257.54,271.27 258.04,271.28 258.55,271.28 259.05,271.29 259.56,271.29 260.07,271.29 260.57,271.30 261.08,271.30 261.59,271.31 262.09,271.31 262.60,271.31 263.11,271.32 263.61,271.32 264.12,271.32 264.62,271.33 265.13,271.33 265.64,271.33 266.14,271.34" fill="none" stroke="#c2c21a" stroke-width="2.1" stroke-linejoin="round"/>
<polyline points="66.12,250.36 66.62,249.21 67.13,248.16 67.64,247.21 68.14,246.37 68.65,245.61 69.15,244.86 69.66,244.13 70.17,243.41 70.67,242.70 71.18,242.02 71.69,241.35 72.19,240.71 72.70,240.10 73.21,239.51 73.71,238.95 74.22,238.42 74.72,237.92 75.23,237.46 75.74,237.03 76.24,236.63 76.75,236.28 77.26,235.96 77.76,235.67 78.27,235.43 78.78,235.23 79.28,235.06 79.79,234.93 80.30,234.84 80.80,234.79 81.31,234.77 81.81,234.79 82.32,234.83 82.83,234.90 83.33,235.00 83.84,235.13 84.35,235.28 84.85,235.47 85.36,235.68 85.87,235.91 86.37,236.17 86.88,236.45 87.38,236.75 87.89,237.07 88.40,237.41 88.90,237.76 89.41,238.13 89.92,238.52 90.42,238.91 90.93,239.32 91.44,239.73 91.94,240.16 92.45,240.58 92.96,241.02 93.46,241.45 93.97,241.89 94.47,242.32 94.98,242.76 95.49,243.19 95.99,243.62 96.50,244.05 97.01,244.47 97.51,244.89 98.02,245.31 98.53,245.71 99.03,246.11 99.54,246.50 100.04,246.89 100.55,247.27 101.06,247.64 101.56,248.00 102.07,248.35 102.58,248.70 103.08,249.04 103.59,249.37 104.10,249.69 104.60,250.01 105.11,250.32 105.62,250.62 106.12,250.92 106.63,251.21 107.13,251.50 107.64,251.78 108.15,252.05 108.65,252.32 109.16,252.58 109.67,252.84 110.17,253.10 110.68,253.35 111.19,253.60 111.69,253.84 112.20,254.08 112.70,254.31 113.21,254.55 113.72,254.78 114.22,255.00 114.73,255.23 115.24,255.45 115.74,255.67 116.25,255.88 116.76,256.10 117.26,256.31 117.77,256.51 118.28,256.72 118.78,256.92 119.29,257.13 119.79,257.33 120.30,257.52 120.81,257.72 121.31,257.91 121.82,258.10 122.33,258.29 122.83,258.48 123.34,258.66 123.85,258.84 124.35,259.02 124.86,259.20 125.36,259.38 125.87,259.55 126.38,259.72 126.88,259.89 127.39,260.06 127.90,260.22 128.40,260.39 128.91,260.55 129.42,260.71 129.92,260.87 130.43,261.02 130.94,261.17 131.44,261.33 131.95,261.47 132.45,261.62 132.96,261.77 133.47,261.91 133.97,262.05 134.48,262.19 134.99,262.33 135.49,262.46 136.00,262.60 136.51,262.73 137.01,262.86 137.52,262.99 138.02,263.12 138.53,263.24 139.04,263.36 139.54,263.48 140.05,263.60 140.56,263.72 141.06,263.84 141.57,263.95 142.08,264.07 142.58,264.18 143.09,264.29 143.60,264.40 144.10,264.50 144.61,264.61 145.11,264.71 145.62,264.82 146.13,264.92 146.63,265.02 147.14,265.11 147.65,265.21 148.15,265.31 148.66,265.40 149.17,265.49 149.67,265.59 150.18,265.68 150.68,265.76 151.19,265.85 151.70,265.94 152.20,266.02 152.71,266.11 153.22,266.19 153.72,266.27 154.23,266.35 154.74,266.43 155.24,266.51 155.75,266.59 156.26,266.67 156.76,266.74 157.27,266.81 157.77,266.89 158.28,266.96 158.79,267.03 159.29,267.10 159.80,267.17 160.31,267.24 160.81,267.31 161.32,267.37 161.83,267.44 162.33,267.50 162.84,267.56 163.34,267.63 163.85,267.69 164.36,267.75 164.86,267.81 165.37,267.87 165.88,267.93 166.38,267.98 166.89,268.04 167.40,268.10 167.90,268.15 168.41,268.21 168.92,268.26 169.42,268.31 169.93,268.36 170.43,268.41 170.94,268.46 171.45,268.51 171.95,268.56 172.46,268.61 172.97,268.66 173.47,268.70 173.98,268.75 174.49,268.80 174.99,268.84 175.50,268.88 176.00,268.93 176.51,268.97 177.02,269.01 177.52,269.05 178.03,269.09 178.54,269.13 179.04,269.17 179.55,269.21 180.06,269.25 180.56,269.29 181.07,269.33 181.58,269.36 182.08,269.40 182.59,269.43 183.09,269.47 183.60,269.50 184.11,269.54 184.61,269.57 185.12,269.60 185.63,269.64 186.13,269.67 186.64,269.70 187.15,269.73 187.65,269.76 188.16,269.79 188.66,269.82 189.17,269.85 189.68,269.88 190.18,269.91 190.69,269.93 191.20,269.96 191.70,269.99 192.21,270.01 192.72,270.04 193.22,270.06 193.73,270.09 194.24,270.11 194.74,270.14 195.25,270.16 195.75,270.18 196.26,270.21 196.77,270.23 197.27,270.25 197.78,270.27 198.29,270.30 198.79,270.32 199.30,270.34 199.81,270.36 200.31,270.38 200.82,270.40 201.32,270.42 201.83,270.44 202.34,270.46 202.84,270.47 203.35,270.49 203.86,270.51 204.36,270.53 204.87,270.55 205.38,270.56 205.88,270.58 206.39,270.60 206.90,270.61 207.40,270.63 207.91,270.64 208.41,270.66 208.92,270.67 209.43,270.69 209.93,270.70 210.44,270.72 210.95,270.73 211.45,270.75 211.96,270.76 212.47,270.77 212.97,270.79 213.48,270.80 213.98,270.81 214.49,270.82 215.00,270.84 215.50,270.85 216.01,270.86 216.52,270.87 217.02,270.88 217.53,270.89 218.04,270.90 218.54,270.92 219.05,270.93 219.56,270.94 220.06,270.95 220.57,270.96 221.07,270.97 221.58,270.98 222.09,270.99 222.59,271.00 223.10,271.00 223.61,271.01 224.11,271.02 224.62,271.03 225.13,271.04 225.63,271.05 226.14,271.06 226.64,271.07 227.15,271.07 227.66,271.08 228.16,271.09 228.67,271.10 229.18,271.10 229.68,271.11 230.19,271.12 230.70,271.13 231.20,271.13 231.71,271.14 232.22,271.15 232.72,271.15 233.23,271.16 233.73,271.16 234.24,271.17 234.75,271.18 235.25,271.18 235.76,271.19 236.27,271.19 236.77,271.20 237.28,271.21 237.79,271.21 238.29,271.22 238.80,271.22 239.30,271.23 239.81,271.23 240.32,271.24 240.82,271.24 241.33,271.25 241.84,271.25 242.34,271.26 242.85,271.26 243.36,271.27 243.86,271.27 244.37,271.27 244.88,271.28 245.38,271.28 245.89,271.29 246.39,271.29 246.90,271.29 247.41,271.30 247.91,271.30 248.42,271.31 248.93,271.31 249.43,271.31 249.94,271.32 250.45,271.32 250.95,271.32 251.46,271.33 251.96,271.33 252.47,271.33 252.98,271.34 253.48,271.34 253.99,271.34 254.50,271.35 255.00,271.35 255.51,271.35 256.02,271.35 256.52,271.36 257.03,271.36 257.54,271.36 258.04,271.36 258.55,271.37 259.05,271.37 259.56,271.37 260.07,271.37 260.57,271.38 261.08,271.38 261.59,271.38 262.09,271.38 262.60,271.39 263.11,271.39 263.61,271.39 264.12,271.39 264.62,271.39 265.13,271.40 265.64,271.40 266.14,271.40" fill="none" stroke="#a50d12" stroke-width="2.1" stroke-linejoin="round"/>
<polyline points="66.12,264.61 66.62,264.24 67.13,263.89 67.64,263.58 68.14,263.31 68.65,263.06 69.15,262.82 69.66,262.58 70.17,262.34 70.67,262.11 71.18,261.89 71.69,261.67 72.19,261.47 72.70,261.26 73.21,261.07 73.71,260.89 74.22,260.72 74.72,260.56 75.23,260.40 75.74,260.26 76.24,260.14 76.75,260.02 77.26,259.91 77.76,259.82 78.27,259.74 78.78,259.68 79.28,259.62 79.79,259.58 80.30,259.55 80.80,259.53 81.31,259.53 81.81,259.53 82.32,259.55 82.83,259.57 83.33,259.60 83.84,259.64 84.35,259.70 84.85,259.75 85.36,259.82 85.87,259.90 86.37,259.98 86.88,260.07 87.38,260.17 87.89,260.28 88.40,260.39 88.90,260.50 89.41,260.62 89.92,260.75 90.42,260.88 90.93,261.01 91.44,261.15 91.94,261.28 92.45,261.42 92.96,261.56 93.46,261.71 93.97,261.85 94.47,261.99 94.98,262.13 95.49,262.27 95.99,262.41 96.50,262.55 97.01,262.69 97.51,262.83 98.02,262.96 98.53,263.09 99.03,263.22 99.54,263.35 100.04,263.48 100.55,263.60 101.06,263.72 101.56,263.84 102.07,263.95 102.58,264.07 103.08,264.18 103.59,264.29 104.10,264.39 104.60,264.50 105.11,264.60 105.62,264.70 106.12,264.79 106.63,264.89 107.13,264.98 107.64,265.07 108.15,265.16 108.65,265.25 109.16,265.33 109.67,265.42 110.17,265.50 110.68,265.58 111.19,265.66 111.69,265.74 112.20,265.82 112.70,265.90 113.21,265.97 113.72,266.05 114.22,266.12 114.73,266.20 115.24,266.27 115.74,266.34 116.25,266.41 116.76,266.48 117.26,266.55 117.77,266.62 118.28,266.68 118.78,266.75 119.29,266.81 119.79,266.88 120.30,266.94 120.81,267.01 121.31,267.07 121.82,267.13 122.33,267.19 122.83,267.25 123.34,267.31 123.85,267.37 124.35,267.43 124.86,267.49 125.36,267.55 125.87,267.61 126.38,267.66 126.88,267.72 127.39,267.77 127.90,267.82 128.40,267.88 128.91,267.93 129.42,267.98 129.92,268.03 130.43,268.08 130.94,268.13 131.44,268.18 131.95,268.23 132.45,268.28 132.96,268.33 133.47,268.37 133.97,268.42 134.48,268.47 134.99,268.51 135.49,268.55 136.00,268.60 136.51,268.64 137.01,268.68 137.52,268.73 138.02,268.77 138.53,268.81 139.04,268.85 139.54,268.89 140.05,268.93 140.56,268.96 141.06,269.00 141.57,269.04 142.08,269.08 142.58,269.11 143.09,269.15 143.60,269.18 144.10,269.22 144.61,269.25 145.11,269.29 145.62,269.32 146.13,269.35 146.63,269.39 147.14,269.42 147.65,269.45 148.15,269.48 148.66,269.51 149.17,269.54 149.67,269.57 150.18,269.60 150.68,269.63 151.19,269.66 151.70,269.69 152.20,269.72 152.71,269.74 153.22,269.77 153.72,269.80 154.23,269.82 154.74,269.85 155.24,269.87 155.75,269.90 156.26,269.92 156.76,269.95 157.27,269.97 157.77,270.00 158.28,270.02 158.79,270.04 159.29,270.07 159.80,270.09 160.31,270.11 160.81,270.13 161.32,270.15 161.83,270.18 162.33,270.20 162.84,270.22 163.34,270.24 163.85,270.26 164.36,270.28 164.86,270.30 165.37,270.32 165.88,270.34 166.38,270.35 166.89,270.37 167.40,270.39 167.90,270.41 168.41,270.43 168.92,270.44 169.42,270.46 169.93,270.48 170.43,270.49 170.94,270.51 171.45,270.53 171.95,270.54 172.46,270.56 172.97,270.57 173.47,270.59 173.98,270.60 174.49,270.62 174.99,270.63 175.50,270.65 176.00,270.66 176.51,270.68 177.02,270.69 177.52,270.70 178.03,270.72 178.54,270.73 179.04,270.74 179.55,270.75 180.06,270.77 180.56,270.78 181.07,270.79 181.58,270.80 182.08,270.82 182.59,270.83 183.09,270.84 183.60,270.85 184.11,270.86 184.61,270.87 185.12,270.88 185.63,270.89 186.13,270.90 186.64,270.91 187.15,270.92 187.65,270.93 188.16,270.94 188.66,270.95 189.17,270.96 189.68,270.97 190.18,270.98 190.69,270.99 191.20,271.00 191.70,271.01 192.21,271.02 192.72,271.02 193.22,271.03 193.73,271.04 194.24,271.05 194.74,271.06 195.25,271.06 195.75,271.07 196.26,271.08 196.77,271.09 197.27,271.09 197.78,271.10 198.29,271.11 198.79,271.11 199.30,271.12 199.81,271.13 200.31,271.13 200.82,271.14 201.32,271.15 201.83,271.15 202.34,271.16 202.84,271.17 203.35,271.17 203.86,271.18 204.36,271.18 204.87,271.19 205.38,271.19 205.88,271.20 206.39,271.21 206.90,271.21 207.40,271.22 207.91,271.22 208.41,271.23 208.92,271.23 209.43,271.24 209.93,271.24 210.44,271.24 210.95,271.25 211.45,271.25 211.96,271.26 212.47,271.26 212.97,271.27 213.48,271.27 213.98,271.28 214.49,271.28 215.00,271.28 215.50,271.29 216.01,271.29 216.52,271.29 217.02,271.30 217.53,271.30 218.04,271.31 218.54,271.31 219.05,271.31 219.56,271.32 220.06,271.32 220.57,271.32 221.07,271.33 221.58,271.33 222.09,271.33 222.59,271.34 223.10,271.34 223.61,271.34 224.11,271.34 224.62,271.35 225.13,271.35 225.63,271.35 226.14,271.36 226.64,271.36 227.15,271.36 227.66,271.36 228.16,271.37 228.67,271.37 229.18,271.37 229.68,271.37 230.19,271.38 230.70,271.38 231.20,271.38 231.71,271.38 232.22,271.38 232.72,271.39 233.23,271.39 233.73,271.39 234.24,271.39 234.75,271.39 235.25,271.40 235.76,271.40 236.27,271.40 236.77,271.40 237.28,271.40 237.79,271.41 238.29,271.41 238.80,271.41 239.30,271.41 239.81,271.41 240.32,271.41 240.82,271.42 241.33,271.42 241.84,271.42 242.34,271.42 242.85,271.42 243.36,271.42 243.86,271.43 244.37,271.43 244.88,271.43 245.38,271.43 245.89,271.43 246.39,271.43 246.90,271.43 247.41,271.43 247.91,271.44 248.42,271.44 248.93,271.44 249.43,271.44 249.94,271.44 250.45,271.44 250.95,271.44 251.46,271.44 251.96,271.44 252.47,271.45 252.98,271.45 253.48,271.45 253.99,271.45 254.50,271.45 255.00,271.45 255.51,271.45 256.02,271.45 256.52,271.45 257.03,271.45 257.54,271.46 258.04,271.46 258.55,271.46 259.05,271.46 259.56,271.46 260.07,271.46 260.57,271.46 261.08,271.46 261.59,271.46 262.09,271.46 262.60,271.46 263.11,271.46 263.61,271.46 264.12,271.46 264.62,271.47 265.13,271.47 265.64,271.47 266.14,271.47" fill="none" stroke="#000000" stroke-width="2.1" stroke-linejoin="round"/>
<line x1="185.80" y1="66.50" x2="207.20" y2="66.50" stroke="#000000" stroke-width="2.2" />
<text x="218.90" y="72.20" font-size="15.8" text-anchor="start" font-weight="normal" fill="#111" >Control</text>
<line x1="185.80" y1="89.58" x2="207.20" y2="89.58" stroke="#a50d12" stroke-width="2.2" />
<text x="218.90" y="95.28" font-size="15.8" text-anchor="start" font-weight="normal" fill="#111" >100 aM</text>
<line x1="185.80" y1="112.66" x2="207.20" y2="112.66" stroke="#c2c21a" stroke-width="2.2" />
<text x="218.90" y="118.36" font-size="15.8" text-anchor="start" font-weight="normal" fill="#111" >1 fM</text>
<line x1="185.80" y1="135.74" x2="207.20" y2="135.74" stroke="#19809c" stroke-width="2.2" />
<text x="218.90" y="141.44" font-size="15.8" text-anchor="start" font-weight="normal" fill="#111" >10 fM</text>
<line x1="185.80" y1="158.82" x2="207.20" y2="158.82" stroke="#f0137f" stroke-width="2.2" />
<text x="218.90" y="164.52" font-size="15.8" text-anchor="start" font-weight="normal" fill="#111" >100 fM</text>
<line x1="185.80" y1="181.90" x2="207.20" y2="181.90" stroke="#ff7f10" stroke-width="2.2" />
<text x="218.90" y="187.60" font-size="15.8" text-anchor="start" font-weight="normal" fill="#111" >1 pM</text>
<line x1="185.80" y1="204.98" x2="207.20" y2="204.98" stroke="#915e20" stroke-width="2.2" />
<text x="218.90" y="210.68" font-size="15.8" text-anchor="start" font-weight="normal" fill="#111" >10 pM</text>
<line x1="185.80" y1="228.06" x2="207.20" y2="228.06" stroke="#0a0abf" stroke-width="2.2" />
<text x="218.90" y="233.76" font-size="15.8" text-anchor="start" font-weight="normal" fill="#111" >100 pM</text>
<text x="358.20" y="24.00" font-size="32.5" text-anchor="start" font-weight="bold" fill="#000" >B</text>
<path d="M424.00,42.40 H656.50 V274.90 H424.00 Z" fill="none" stroke="#000" stroke-width="2.1"/>
<line x1="415.20" y1="274.90" x2="424.00" y2="274.90" stroke="#000" stroke-width="2.1" />
<text x="413.50" y="280.10" font-size="15" text-anchor="end" font-weight="bold" fill="#000" >0</text>
<line x1="415.20" y1="216.77" x2="424.00" y2="216.77" stroke="#000" stroke-width="2.1" />
<text x="413.50" y="221.97" font-size="15" text-anchor="end" font-weight="bold" fill="#000" >50</text>
<line x1="415.20" y1="158.65" x2="424.00" y2="158.65" stroke="#000" stroke-width="2.1" />
<text x="413.50" y="163.85" font-size="15" text-anchor="end" font-weight="bold" fill="#000" >100</text>
<line x1="415.20" y1="100.53" x2="424.00" y2="100.53" stroke="#000" stroke-width="2.1" />
<text x="413.50" y="105.73" font-size="15" text-anchor="end" font-weight="bold" fill="#000" >150</text>
<line x1="415.20" y1="42.40" x2="424.00" y2="42.40" stroke="#000" stroke-width="2.1" />
<text x="413.50" y="47.60" font-size="15" text-anchor="end" font-weight="bold" fill="#000" >200</text>
<line x1="424.00" y1="274.90" x2="424.00" y2="282.60" stroke="#000" stroke-width="2.1" />
<line x1="501.35" y1="274.90" x2="501.35" y2="282.60" stroke="#000" stroke-width="2.1" />
<line x1="578.70" y1="274.90" x2="578.70" y2="282.60" stroke="#000" stroke-width="2.1" />
<line x1="656.50" y1="274.90" x2="656.50" y2="282.60" stroke="#000" stroke-width="2.1" />
<text x="423.00" y="299.80" font-size="15" text-anchor="middle" font-weight="bold" fill="#000" >0</text>
<text x="501.35" y="299.6" font-size="15.4" font-weight="bold" text-anchor="middle">5×10<tspan font-size="10.2" font-weight="bold" dx="0.5" dy="-4.0">7</tspan></text>
<text x="578.70" y="299.6" font-size="15.4" font-weight="bold" text-anchor="middle">1×10<tspan font-size="10.2" font-weight="bold" dx="0.5" dy="-4.0">8</tspan></text>
<text x="656.05" y="299.6" font-size="15.4" font-weight="bold" text-anchor="middle">1.5×10<tspan font-size="10.2" font-weight="bold" dx="0.5" dy="-4.0">8</tspan></text>
<text x="540.00" y="323.80" font-size="16.3" text-anchor="middle" font-weight="bold" fill="#000" >Concentration of miR-21 (aM)</text>
<text transform="translate(380.3,159.1) rotate(-90)" font-size="16.2" font-weight="bold" text-anchor="middle">ThT signal (<tspan font-style="italic">a.u.</tspan>)</text>
<path d="M500.80,114.20 H621.30 V235.10 H500.80 Z" fill="none" stroke="#222" stroke-width="1.1"/>
<line x1="496.80" y1="235.10" x2="500.80" y2="235.10" stroke="#222" stroke-width="1.1" />
<text x="495.60" y="238.00" font-size="8.3" text-anchor="end" font-weight="bold" fill="#111" >0</text>
<line x1="496.80" y1="204.88" x2="500.80" y2="204.88" stroke="#222" stroke-width="1.1" />
<text x="495.60" y="207.78" font-size="8.3" text-anchor="end" font-weight="bold" fill="#111" >50</text>
<line x1="496.80" y1="174.65" x2="500.80" y2="174.65" stroke="#222" stroke-width="1.1" />
<text x="495.60" y="177.55" font-size="8.3" text-anchor="end" font-weight="bold" fill="#111" >100</text>
<line x1="496.80" y1="144.43" x2="500.80" y2="144.43" stroke="#222" stroke-width="1.1" />
<text x="495.60" y="147.33" font-size="8.3" text-anchor="end" font-weight="bold" fill="#111" >150</text>
<line x1="496.80" y1="114.20" x2="500.80" y2="114.20" stroke="#222" stroke-width="1.1" />
<text x="495.60" y="117.10" font-size="8.3" text-anchor="end" font-weight="bold" fill="#111" >200</text>
<line x1="500.80" y1="235.10" x2="500.80" y2="238.80" stroke="#222" stroke-width="1.1" />
<text x="500.80" y="248.00" font-size="8.3" text-anchor="middle" font-weight="bold" fill="#111" >0</text>
<line x1="524.90" y1="235.10" x2="524.90" y2="238.80" stroke="#222" stroke-width="1.1" />
<text x="524.90" y="248.00" font-size="8.3" text-anchor="middle" font-weight="bold" fill="#111" >2</text>
<line x1="549.00" y1="235.10" x2="549.00" y2="238.80" stroke="#222" stroke-width="1.1" />
<text x="549.00" y="248.00" font-size="8.3" text-anchor="middle" font-weight="bold" fill="#111" >4</text>
<line x1="573.10" y1="235.10" x2="573.10" y2="238.80" stroke="#222" stroke-width="1.1" />
<text x="573.10" y="248.00" font-size="8.3" text-anchor="middle" font-weight="bold" fill="#111" >6</text>
<line x1="597.20" y1="235.10" x2="597.20" y2="238.80" stroke="#222" stroke-width="1.1" />
<text x="597.20" y="248.00" font-size="8.3" text-anchor="middle" font-weight="bold" fill="#111" >8</text>
<line x1="621.30" y1="235.10" x2="621.30" y2="238.80" stroke="#222" stroke-width="1.1" />
<text x="621.30" y="248.00" font-size="8.3" text-anchor="middle" font-weight="bold" fill="#111" >10</text>
<text x="561.40" y="260.50" font-size="8.4" text-anchor="middle" font-weight="bold" fill="#111" >Logarithmic concentration of miR-21 (aM)</text>
<text transform="translate(479.0,174.7) rotate(-90)" font-size="8.4" font-weight="bold" text-anchor="middle" fill="#111">ThT signal (<tspan font-style="italic">a.u.</tspan>)</text>
<polyline points="524.90,212.51 526.11,211.25 527.31,209.99 528.51,208.73 529.72,207.47 530.92,206.21 532.13,204.95 533.34,203.68 534.54,202.42 535.75,201.15 536.95,199.88 538.15,198.61 539.36,197.33 540.57,196.06 541.77,194.78 542.98,193.49 544.18,192.21 545.38,190.92 546.59,189.63 547.79,188.34 549.00,187.04 550.21,185.73 551.41,184.43 552.62,183.12 553.82,181.80 555.02,180.48 556.23,179.15 557.43,177.82 558.64,176.48 559.85,175.14 561.05,173.79 562.25,172.44 563.46,171.08 564.66,169.71 565.87,168.34 567.07,166.96 568.28,165.58 569.48,164.19 570.69,162.80 571.89,161.40 573.10,160.00 574.30,158.60 575.51,157.19 576.71,155.78 577.92,154.36 579.12,152.94 580.33,151.52 581.53,150.10 582.74,148.67 583.94,147.24 585.15,145.81 586.35,144.38 587.56,142.94 588.76,141.50 589.97,140.07 591.17,138.62 592.38,137.18 593.58,135.74 594.79,134.30 595.99,132.85 597.20,131.40" fill="none" stroke="#f26b1d" stroke-width="1.5" stroke-dasharray="1.4 3.0"/>
<polyline points="524.90,220.75 526.11,219.30 527.31,217.85 528.51,216.41 529.72,214.97 530.92,213.52 532.13,212.08 533.34,210.65 534.54,209.21 535.75,207.77 536.95,206.34 538.15,204.91 539.36,203.48 540.57,202.05 541.77,200.63 542.98,199.21 544.18,197.79 545.38,196.37 546.59,194.96 547.79,193.55 549.00,192.15 550.21,190.75 551.41,189.35 552.62,187.96 553.82,186.57 555.02,185.19 556.23,183.81 557.43,182.44 558.64,181.07 559.85,179.71 561.05,178.36 562.25,177.01 563.46,175.67 564.66,174.33 565.87,173.00 567.07,171.67 568.28,170.35 569.48,169.03 570.69,167.72 571.89,166.42 573.10,165.11 574.30,163.81 575.51,162.52 576.71,161.23 577.92,159.94 579.12,158.66 580.33,157.37 581.53,156.09 582.74,154.82 583.94,153.54 585.15,152.27 586.35,151.00 587.56,149.73 588.76,148.47 589.97,147.20 591.17,145.94 592.38,144.68 593.58,143.42 594.79,142.16 595.99,140.90 597.20,139.64" fill="none" stroke="#f26b1d" stroke-width="1.5" stroke-dasharray="1.4 3.0"/>
<line x1="524.90" y1="214.61" x2="524.90" y2="217.03" stroke="#1e1e1e" stroke-width="1.0" />
<line x1="522.45" y1="214.61" x2="527.35" y2="214.61" stroke="#1e1e1e" stroke-width="1.0" />
<line x1="522.45" y1="217.03" x2="527.35" y2="217.03" stroke="#1e1e1e" stroke-width="1.0" />
<line x1="536.95" y1="199.62" x2="536.95" y2="206.39" stroke="#1e1e1e" stroke-width="1.0" />
<line x1="534.50" y1="199.62" x2="539.40" y2="199.62" stroke="#1e1e1e" stroke-width="1.0" />
<line x1="534.50" y1="206.39" x2="539.40" y2="206.39" stroke="#1e1e1e" stroke-width="1.0" />
<line x1="549.00" y1="185.59" x2="549.00" y2="195.87" stroke="#1e1e1e" stroke-width="1.0" />
<line x1="546.55" y1="185.59" x2="551.45" y2="185.59" stroke="#1e1e1e" stroke-width="1.0" />
<line x1="546.55" y1="195.87" x2="551.45" y2="195.87" stroke="#1e1e1e" stroke-width="1.0" />
<line x1="561.05" y1="168.06" x2="561.05" y2="182.09" stroke="#1e1e1e" stroke-width="1.0" />
<line x1="558.60" y1="168.06" x2="563.50" y2="168.06" stroke="#1e1e1e" stroke-width="1.0" />
<line x1="558.60" y1="182.09" x2="563.50" y2="182.09" stroke="#1e1e1e" stroke-width="1.0" />
<line x1="573.10" y1="160.08" x2="573.10" y2="170.48" stroke="#1e1e1e" stroke-width="1.0" />
<line x1="570.65" y1="160.08" x2="575.55" y2="160.08" stroke="#1e1e1e" stroke-width="1.0" />
<line x1="570.65" y1="170.48" x2="575.55" y2="170.48" stroke="#1e1e1e" stroke-width="1.0" />
<line x1="585.15" y1="139.59" x2="585.15" y2="155.31" stroke="#1e1e1e" stroke-width="1.0" />
<line x1="582.70" y1="139.59" x2="587.60" y2="139.59" stroke="#1e1e1e" stroke-width="1.0" />
<line x1="582.70" y1="155.31" x2="587.60" y2="155.31" stroke="#1e1e1e" stroke-width="1.0" />
<line x1="597.20" y1="128.65" x2="597.20" y2="141.70" stroke="#1e1e1e" stroke-width="1.0" />
<line x1="594.75" y1="128.65" x2="599.65" y2="128.65" stroke="#1e1e1e" stroke-width="1.0" />
<line x1="594.75" y1="141.70" x2="599.65" y2="141.70" stroke="#1e1e1e" stroke-width="1.0" />
<line x1="524.90" y1="216.63" x2="597.20" y2="135.52" stroke="#22228c" stroke-width="1.5" />
<circle cx="524.90" cy="215.82" r="2.7" fill="#000"/>
<circle cx="536.95" cy="203.00" r="2.7" fill="#000"/>
<circle cx="549.00" cy="190.73" r="2.7" fill="#000"/>
<circle cx="561.05" cy="175.07" r="2.7" fill="#000"/>
<circle cx="573.10" cy="165.28" r="2.7" fill="#000"/>
<circle cx="585.15" cy="147.45" r="2.7" fill="#000"/>
<circle cx="597.20" cy="135.18" r="2.7" fill="#000"/>
<line x1="424.00" y1="235.49" x2="424.00" y2="240.14" stroke="#1a1a1a" stroke-width="1.35" />
<line x1="419.00" y1="235.49" x2="429.00" y2="235.49" stroke="#1a1a1a" stroke-width="1.35" />
<line x1="419.00" y1="240.14" x2="429.00" y2="240.14" stroke="#1a1a1a" stroke-width="1.35" />
<line x1="424.00" y1="207.13" x2="424.00" y2="219.45" stroke="#1a1a1a" stroke-width="1.35" />
<line x1="419.00" y1="207.13" x2="429.00" y2="207.13" stroke="#1a1a1a" stroke-width="1.35" />
<line x1="419.00" y1="219.45" x2="429.00" y2="219.45" stroke="#1a1a1a" stroke-width="1.35" />
<line x1="424.02" y1="179.81" x2="424.02" y2="200.03" stroke="#1a1a1a" stroke-width="1.35" />
<line x1="419.02" y1="179.81" x2="429.02" y2="179.81" stroke="#1a1a1a" stroke-width="1.35" />
<line x1="419.02" y1="200.03" x2="429.02" y2="200.03" stroke="#1a1a1a" stroke-width="1.35" />
<line x1="424.15" y1="145.28" x2="424.15" y2="174.34" stroke="#1a1a1a" stroke-width="1.35" />
<line x1="419.15" y1="145.28" x2="429.15" y2="145.28" stroke="#1a1a1a" stroke-width="1.35" />
<line x1="419.15" y1="174.34" x2="429.15" y2="174.34" stroke="#1a1a1a" stroke-width="1.35" />
<line x1="425.55" y1="123.54" x2="425.55" y2="145.16" stroke="#1a1a1a" stroke-width="1.35" />
<line x1="420.55" y1="123.54" x2="430.55" y2="123.54" stroke="#1a1a1a" stroke-width="1.35" />
<line x1="420.55" y1="145.16" x2="430.55" y2="145.16" stroke="#1a1a1a" stroke-width="1.35" />
<line x1="439.47" y1="90.88" x2="439.47" y2="122.03" stroke="#1a1a1a" stroke-width="1.35" />
<line x1="434.47" y1="90.88" x2="444.47" y2="90.88" stroke="#1a1a1a" stroke-width="1.35" />
<line x1="434.47" y1="122.03" x2="444.47" y2="122.03" stroke="#1a1a1a" stroke-width="1.35" />
<line x1="578.70" y1="69.25" x2="578.70" y2="94.83" stroke="#1a1a1a" stroke-width="1.35" />
<line x1="573.70" y1="69.25" x2="583.70" y2="69.25" stroke="#1a1a1a" stroke-width="1.35" />
<line x1="573.70" y1="94.83" x2="583.70" y2="94.83" stroke="#1a1a1a" stroke-width="1.35" />
<polyline points="424.02,222.01 424.02,221.59 424.02,221.17 424.02,220.75 424.02,220.34 424.02,219.92 424.02,219.50 424.02,219.08 424.02,218.67 424.03,218.25 424.03,217.83 424.03,217.41 424.03,217.00 424.03,216.58 424.03,216.16 424.03,215.75 424.03,215.33 424.03,214.91 424.03,214.49 424.03,214.08 424.03,213.66 424.03,213.24 424.03,212.82 424.03,212.41 424.04,211.99 424.04,211.57 424.04,211.15 424.04,210.74 424.04,210.32 424.04,209.90 424.04,209.48 424.04,209.07 424.04,208.65 424.04,208.23 424.04,207.81 424.05,207.40 424.05,206.98 424.05,206.56 424.05,206.14 424.05,205.73 424.05,205.31 424.05,204.89 424.05,204.47 424.05,204.06 424.06,203.64 424.06,203.22 424.06,202.81 424.06,202.39 424.06,201.97 424.06,201.55 424.06,201.14 424.07,200.72 424.07,200.30 424.07,199.88 424.07,199.47 424.07,199.05 424.07,198.63 424.08,198.21 424.08,197.80 424.08,197.38 424.08,196.96 424.08,196.54 424.09,196.13 424.09,195.71 424.09,195.29 424.09,194.87 424.09,194.46 424.10,194.04 424.10,193.62 424.10,193.20 424.10,192.79 424.10,192.37 424.11,191.95 424.11,191.54 424.11,191.12 424.11,190.70 424.12,190.28 424.12,189.87 424.12,189.45 424.13,189.03 424.13,188.61 424.13,188.20 424.13,187.78 424.14,187.36 424.14,186.94 424.14,186.53 424.15,186.11 424.15,185.69 424.15,185.27 424.16,184.86 424.16,184.44 424.17,184.02 424.17,183.60 424.17,183.19 424.18,182.77 424.18,182.35 424.19,181.93 424.19,181.52 424.19,181.10 424.20,180.68 424.20,180.26 424.21,179.85 424.21,179.43 424.22,179.01 424.22,178.60 424.23,178.18 424.23,177.76 424.24,177.34 424.25,176.93 424.25,176.51 424.26,176.09 424.26,175.67 424.27,175.26 424.28,174.84 424.28,174.42 424.29,174.00 424.29,173.59 424.30,173.17 424.31,172.75 424.32,172.33 424.32,171.92 424.33,171.50 424.34,171.08 424.35,170.66 424.35,170.25 424.36,169.83 424.37,169.41 424.38,168.99 424.39,168.58 424.40,168.16 424.41,167.74 424.42,167.33 424.43,166.91 424.44,166.49 424.45,166.07 424.46,165.66 424.47,165.24 424.48,164.82 424.49,164.40 424.50,163.99 424.51,163.57 424.52,163.15 424.54,162.73 424.55,162.32 424.56,161.90 424.57,161.48 424.59,161.06 424.60,160.65 424.62,160.23 424.63,159.81 424.64,159.39 424.66,158.98 424.68,158.56 424.69,158.14 424.71,157.72 424.72,157.31 424.74,156.89 424.76,156.47 424.78,156.06 424.79,155.64 424.81,155.22 424.83,154.80 424.85,154.39 424.87,153.97 424.89,153.55 424.91,153.13 424.93,152.72 424.95,152.30 424.98,151.88 425.00,151.46 425.02,151.05 425.05,150.63 425.07,150.21 425.10,149.79 425.12,149.38 425.15,148.96 425.17,148.54 425.20,148.12 425.23,147.71 425.26,147.29 425.29,146.87 425.32,146.45 425.35,146.04 425.38,145.62 425.41,145.20 425.44,144.78 425.48,144.37 425.51,143.95 425.55,143.53 425.58,143.25 425.62,142.97 425.66,142.69 425.70,142.40 425.74,142.12 425.78,141.83 425.82,141.54 425.86,141.26 425.90,140.97 425.95,140.68 425.99,140.39 426.04,140.10 426.09,139.81 426.14,139.52 426.19,139.22 426.24,138.93 426.29,138.64 426.34,138.34 426.40,138.04 426.45,137.75 426.51,137.45 426.57,137.15 426.63,136.85 426.69,136.55 426.75,136.25 426.82,135.95 426.88,135.65 426.95,135.34 427.02,135.04 427.09,134.74 427.16,134.43 427.23,134.12 427.31,133.82 427.38,133.51 427.46,133.20 427.54,132.89 427.63,132.58 427.71,132.27 427.80,131.96 427.89,131.64 427.98,131.33 428.07,131.02 428.16,130.70 428.26,130.39 428.36,130.07 428.46,129.75 428.57,129.43 428.67,129.11 428.78,128.80 428.89,128.47 429.01,128.15 429.12,127.83 429.24,127.51 429.36,127.18 429.49,126.86 429.62,126.53 429.75,126.21 429.88,125.88 430.02,125.55 430.16,125.22 430.30,124.90 430.45,124.57 430.60,124.23 430.75,123.90 430.91,123.57 431.07,123.24 431.24,122.90 431.40,122.57 431.58,122.23 431.75,121.90 431.93,121.56 432.12,121.22 432.31,120.88 432.50,120.54 432.70,120.20 432.90,119.86 433.11,119.52 433.32,119.18 433.54,118.83 433.76,118.49 433.99,118.14 434.22,117.80 434.46,117.45 434.70,117.10 434.95,116.75 435.21,116.40 435.47,116.05 435.74,115.70 436.01,115.35 436.29,115.00 436.57,114.65 436.87,114.29 437.17,113.94 437.47,113.58 437.79,113.23 438.11,112.87 438.44,112.51 438.77,112.15 439.12,111.79 439.47,111.43 439.83,111.07 440.20,110.71 440.58,110.35 440.96,109.98 441.36,109.62 441.76,109.25 442.18,108.89 442.60,108.52 443.03,108.15 443.48,107.79 443.93,107.42 444.39,107.05 444.87,106.68 445.35,106.31 445.85,105.93 446.36,105.56 446.88,105.19 447.41,104.81 447.96,104.44 448.52,104.06 449.09,103.68 449.67,103.31 450.27,102.93 450.88,102.55 451.51,102.17 452.15,101.79 452.81,101.40 453.48,101.02 454.16,100.64 454.87,100.25 455.59,99.87 456.32,99.48 457.07,99.10 457.84,98.71 458.63,98.32 459.44,97.93 460.27,97.54 461.11,97.15 461.97,96.76 462.86,96.37 463.76,95.98 464.69,95.58 465.64,95.19 466.61,94.79 467.60,94.40 468.62,94.00 469.66,93.60 470.72,93.21 471.81,92.81 472.92,92.41 474.06,92.01 475.23,91.60 476.42,91.20 477.64,90.80 478.89,90.39 480.17,89.99 481.48,89.58 482.82,89.18 484.19,88.77 485.59,88.36 487.02,87.95 488.49,87.54 489.99,87.13 491.53,86.72 493.10,86.31 494.71,85.90 496.36,85.49 498.04,85.07 499.77,84.66 501.53,84.24 503.34,83.82 505.19,83.41 507.08,82.99 509.01,82.57 510.99,82.15 513.02,81.73 515.09,81.31 517.22,80.88 519.39,80.46 521.61,80.04 523.88,79.61 526.21,79.19 528.59,78.76 531.03,78.34 533.52,77.91 536.07,77.48 538.68,77.05 541.35,76.62 544.09,76.19 546.88,75.76 549.74,75.32 552.67,74.89 555.67,74.46 558.74,74.02 561.88,73.59 565.09,73.15 568.37,72.71 571.74,72.27 575.18,71.84 578.70,71.40" fill="none" stroke="#a80808" stroke-width="2.1" stroke-linejoin="round"/>
<circle cx="424.00" cy="237.82" r="5" fill="#000"/>
<circle cx="424.00" cy="213.29" r="5" fill="#000"/>
<circle cx="424.02" cy="189.92" r="5" fill="#000"/>
<circle cx="424.15" cy="159.81" r="5" fill="#000"/>
<circle cx="425.55" cy="134.35" r="5" fill="#000"/>
<circle cx="439.47" cy="106.45" r="5" fill="#000"/>
<circle cx="578.70" cy="82.04" r="5" fill="#000"/>
<text transform="translate(196.4,368.5) scale(0.971,1.075)" font-size="32.5" font-weight="bold">C</text>
<path d="M267.65,481.00 V371.20 H499.90 V603.40 H267.65 V494.00" fill="none" stroke="#000" stroke-width="2.1"/>
<line x1="262.50" y1="485.60" x2="272.30" y2="476.40" stroke="#000" stroke-width="2.1" />
<line x1="262.50" y1="498.60" x2="272.30" y2="489.20" stroke="#000" stroke-width="2.1" />
<line x1="259.20" y1="425.60" x2="267.65" y2="425.60" stroke="#000" stroke-width="2.1" />
<text x="256.50" y="430.90" font-size="15" text-anchor="end" font-weight="bold" fill="#000" >150</text>
<line x1="259.20" y1="371.20" x2="267.65" y2="371.20" stroke="#000" stroke-width="2.1" />
<text x="256.50" y="376.50" font-size="15" text-anchor="end" font-weight="bold" fill="#000" >200</text>
<text x="256.50" y="485.00" font-size="15" text-anchor="end" font-weight="bold" fill="#000" >100</text>
<text x="256.50" y="500.00" font-size="15" text-anchor="end" font-weight="bold" fill="#000" >30</text>
<line x1="259.20" y1="603.40" x2="267.65" y2="603.40" stroke="#000" stroke-width="2.1" />
<text x="256.50" y="608.70" font-size="15" text-anchor="end" font-weight="bold" fill="#000" >0</text>
<line x1="259.20" y1="567.10" x2="267.65" y2="567.10" stroke="#000" stroke-width="2.1" />
<text x="256.50" y="572.40" font-size="15" text-anchor="end" font-weight="bold" fill="#000" >10</text>
<line x1="259.20" y1="530.80" x2="267.65" y2="530.80" stroke="#000" stroke-width="2.1" />
<text x="256.50" y="536.10" font-size="15" text-anchor="end" font-weight="bold" fill="#000" >20</text>
<rect x="277.90" y="570.37" width="21.0" height="33.03" fill="#c48f4c"/>
<line x1="288.40" y1="567.46" x2="288.40" y2="570.37" stroke="#000" stroke-width="2.1" />
<line x1="283.20" y1="567.46" x2="293.60" y2="567.46" stroke="#000" stroke-width="2.1" />
<line x1="288.40" y1="603.40" x2="288.40" y2="611.60" stroke="#000" stroke-width="2.1" />
<text transform="translate(293.40,624.0) rotate(-45)" font-size="15.1" font-weight="bold" text-anchor="end">17</text>
<rect x="309.60" y="565.65" width="21.0" height="37.75" fill="#fe0000"/>
<line x1="320.10" y1="562.02" x2="320.10" y2="565.65" stroke="#000" stroke-width="2.1" />
<line x1="314.90" y1="562.02" x2="325.30" y2="562.02" stroke="#000" stroke-width="2.1" />
<line x1="320.10" y1="603.40" x2="320.10" y2="611.60" stroke="#000" stroke-width="2.1" />
<text transform="translate(325.10,624.0) rotate(-45)" font-size="15.1" font-weight="bold" text-anchor="end">155</text>
<rect x="341.30" y="563.58" width="21.0" height="39.82" fill="#c2bf00"/>
<line x1="351.80" y1="559.77" x2="351.80" y2="563.58" stroke="#000" stroke-width="2.1" />
<line x1="346.60" y1="559.77" x2="357.00" y2="559.77" stroke="#000" stroke-width="2.1" />
<line x1="351.80" y1="603.40" x2="351.80" y2="611.60" stroke="#000" stroke-width="2.1" />
<text transform="translate(356.80,624.0) rotate(-45)" font-size="15.1" font-weight="bold" text-anchor="end">211</text>
<rect x="373.00" y="569.28" width="21.0" height="34.12" fill="#0f9460"/>
<line x1="383.50" y1="566.37" x2="383.50" y2="569.28" stroke="#000" stroke-width="2.1" />
<line x1="378.30" y1="566.37" x2="388.70" y2="566.37" stroke="#000" stroke-width="2.1" />
<line x1="383.50" y1="603.40" x2="383.50" y2="611.60" stroke="#000" stroke-width="2.1" />
<text transform="translate(388.50,624.0) rotate(-45)" font-size="15.1" font-weight="bold" text-anchor="end">20a</text>
<rect x="404.70" y="564.20" width="21.0" height="39.20" fill="#0000fe"/>
<line x1="415.20" y1="560.38" x2="415.20" y2="564.20" stroke="#000" stroke-width="2.1" />
<line x1="410.00" y1="560.38" x2="420.40" y2="560.38" stroke="#000" stroke-width="2.1" />
<line x1="415.20" y1="603.40" x2="415.20" y2="611.60" stroke="#000" stroke-width="2.1" />
<text transform="translate(420.20,624.0) rotate(-45)" font-size="15.1" font-weight="bold" text-anchor="end">let-7a</text>
<rect x="436.40" y="547.86" width="21.0" height="55.54" fill="#fe1a8c"/>
<line x1="446.90" y1="544.05" x2="446.90" y2="547.86" stroke="#000" stroke-width="2.1" />
<line x1="441.70" y1="544.05" x2="452.10" y2="544.05" stroke="#000" stroke-width="2.1" />
<line x1="446.90" y1="603.40" x2="446.90" y2="611.60" stroke="#000" stroke-width="2.1" />
<text transform="translate(451.90,624.0) rotate(-45)" font-size="15.1" font-weight="bold" text-anchor="end">21</text>
<rect x="468.10" y="421.03" width="21.0" height="58.57" fill="#9c0048"/>
<rect x="468.10" y="494.80" width="21.0" height="108.60" fill="#9c0048"/>
<line x1="478.60" y1="414.18" x2="478.60" y2="421.03" stroke="#000" stroke-width="2.1" />
<line x1="473.40" y1="414.18" x2="483.80" y2="414.18" stroke="#000" stroke-width="2.1" />
<line x1="478.60" y1="603.40" x2="478.60" y2="611.60" stroke="#000" stroke-width="2.1" />
<text x="383.20" y="678.80" font-size="15.85" text-anchor="middle" font-weight="bold" fill="#000" >Specificity analysis</text>
<text transform="translate(223.2,487.7) rotate(-90)" font-size="16.25" font-weight="bold" text-anchor="middle">ThT signal (<tspan font-style="italic">a.u.</tspan>)</text>
</svg>
</body></html>
